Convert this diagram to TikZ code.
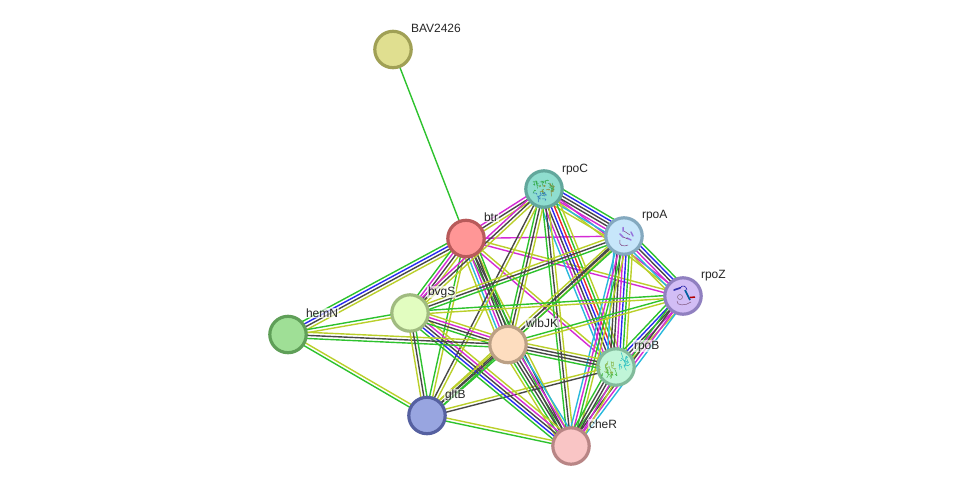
\documentclass[tikz,border=0pt]{standalone}
\usepackage{fontspec}
\setmainfont{Liberation Sans}
\usetikzlibrary{calc,backgrounds}
\definecolor{evgreen}{HTML}{2DC22D}
\definecolor{evred}{HTML}{F02A2A}
\definecolor{evblue}{HTML}{2A2AF0}
\definecolor{evcyan}{HTML}{28B8DC}
\definecolor{evmag}{HTML}{D42AD4}
\definecolor{evyel}{HTML}{BACF2A}
\definecolor{evblk}{HTML}{484848}
\definecolor{bavS}{HTML}{A0A055}\definecolor{bavF}{HTML}{E0DF90}
\definecolor{btrS}{HTML}{B85A5A}\definecolor{btrF}{HTML}{FF9696}
\definecolor{rpoCS}{HTML}{62A79C}\definecolor{rpoCF}{HTML}{8FDDCF}
\definecolor{rpoAS}{HTML}{84A9BF}\definecolor{rpoAF}{HTML}{C7E6FA}
\definecolor{rpoZS}{HTML}{9080C0}\definecolor{rpoZF}{HTML}{D2BDF5}
\definecolor{rpoBS}{HTML}{82BB9B}\definecolor{rpoBF}{HTML}{C0F5D8}
\definecolor{cheRS}{HTML}{B88585}\definecolor{cheRF}{HTML}{F9C5C5}
\definecolor{wlbS}{HTML}{BBA085}\definecolor{wlbF}{HTML}{FDDDBF}
\definecolor{bvgS}{HTML}{A0BB80}\definecolor{bvgF}{HTML}{E2FDC0}
\definecolor{hemS}{HTML}{5F9F58}\definecolor{hemF}{HTML}{9FDF96}
\definecolor{gltS}{HTML}{5560A0}\definecolor{gltF}{HTML}{98A5E0}
\tikzset{
  x=1pt,y=-1pt,
  protein/.style 2 args={circle,draw=#1,fill=#2,line width=3.2pt,minimum size=36.4pt,inner sep=0pt},
  tag/.style={font=\fontsize{12}{14}\selectfont,text=black!85,fill=white,fill opacity=.65,text opacity=1,inner sep=.8pt,anchor=base west},
  evline/.style={line width=1.4pt},
  glyph/.style={line width=.5pt,line cap=round}
}
% Parallel evidence strands between two proteins, spaced evenly about the centre line
\newcommand{\bundle}[3]{%
  \foreach \c [count=\k] in {#3} {\global\let\strandcount\k}%
  \foreach \c [count=\k] in {#3} {%
    \pgfmathsetmacro{\off}{(\k-(\strandcount+1)/2)*3.1}%
    \draw[evline,\c] ($(#1.center)!\off pt!90:(#2.center)$) -- ($(#2.center)!\off pt!-90:(#1.center)$);
  }%
}
% A cloud of short backbone strokes: centre x, centre y, half width, half height, colour, count
\newcommand{\strokes}[6]{%
  \foreach \n in {1,...,#6} {%
    \pgfmathsetmacro{\sx}{#1+#3*rand}%
    \pgfmathsetmacro{\sy}{#2+#4*rand}%
    \pgfmathsetmacro{\dx}{3*rand}%
    \pgfmathsetmacro{\dy}{3*rand}%
    \draw[glyph,#5] (\sx,\sy) .. controls (\sx+\dx,\sy-\dy) and (\sx-\dy,\sy+\dx) .. (\sx+\dx+\dy,\sy+\dy-\dx);
  }%
}
\begin{document}
\begin{tikzpicture}
\useasboundingbox (0,0) rectangle (975,491);
\pgfmathsetseed{4217}
% proteins
\node[protein={bavS}{bavF}] (bav) at (393,49.5) {};
\node[protein={btrS}{btrF}] (btr) at (466,238.5) {};
\node[protein={rpoCS}{rpoCF}] (rpoC) at (544,189) {};
\node[protein={rpoAS}{rpoAF}] (rpoA) at (624,236) {};
\node[protein={rpoZS}{rpoZF}] (rpoZ) at (683,296) {};
\node[protein={rpoBS}{rpoBF}] (rpoB) at (616,367) {};
\node[protein={cheRS}{cheRF}] (cheR) at (571,446) {};
\node[protein={wlbS}{wlbF}] (wlbJK) at (508,344.5) {};
\node[protein={bvgS}{bvgF}] (bvgS) at (410,313) {};
\node[protein={hemS}{hemF}] (hemN) at (288,334.5) {};
\node[protein={gltS}{gltF}] (gltB) at (427,415.5) {};
% interaction evidence
\begin{scope}[on background layer]
\bundle{bav}{btr}{evgreen}
\bundle{btr}{hemN}{evgreen,evblue,evblk,evyel}
\bundle{btr}{bvgS}{evgreen,evmag,evblk,evyel}
\bundle{btr}{rpoC}{evyel,evblk,evmag}
\bundle{btr}{rpoA}{evmag}
\bundle{btr}{rpoZ}{evmag,evyel}
\bundle{btr}{rpoB}{evmag,evyel}
\bundle{btr}{cheR}{evgreen,evblk,evyel}
\bundle{btr}{wlbJK}{evyel,evcyan,evmag,evblk,evblk,evgreen}
\bundle{btr}{gltB}{evgreen,evyel}
\bundle{rpoC}{rpoZ}{evyel,evmag}
\bundle{rpoC}{rpoA}{evyel,evcyan,evmag,evblk,evblk,evblue,evgreen}
\bundle{rpoC}{rpoB}{evcyan,evmag,evblk,evblue,evred,evgreen,evyel}
\bundle{rpoC}{cheR}{evgreen,evblk,evyel}
\bundle{rpoC}{wlbJK}{evgreen,evblk,evyel}
\bundle{rpoC}{bvgS}{evmag,evblk,evyel}
\bundle{rpoC}{gltB}{evblk,evyel}
\bundle{rpoA}{rpoZ}{evyel,evcyan,evmag,evblk,evblue,evgreen}
\bundle{rpoA}{rpoB}{evcyan,evblk,evblk,evmag,evblue,evgreen,evyel}
\bundle{rpoA}{cheR}{evcyan,evmag,evgreen,evyel}
\bundle{rpoA}{wlbJK}{evblk,evyel}
\bundle{rpoA}{bvgS}{evyel,evblk,evgreen}
\bundle{rpoA}{gltB}{evyel,evblk,evgreen}
\bundle{rpoZ}{rpoB}{evgreen,evblue,evblk,evmag,evyel}
\bundle{rpoZ}{cheR}{evgreen,evblk,evmag,evcyan}
\bundle{rpoZ}{wlbJK}{evgreen,evyel}
\bundle{rpoZ}{bvgS}{evgreen,evyel}
\bundle{rpoB}{wlbJK}{evyel,evblk,evblk,evgreen}
\bundle{rpoB}{cheR}{evgreen,evblk,evblk,evmag,evyel}
\bundle{rpoB}{gltB}{evyel,evblk}
\bundle{cheR}{wlbJK}{evcyan,evmag,evblk,evblk,evgreen,evyel}
\bundle{cheR}{bvgS}{evyel,evmag,evblk,evblue,evgreen}
\bundle{cheR}{gltB}{evyel,evgreen}
\bundle{wlbJK}{bvgS}{evyel,evmag,evblk,evgreen}
\bundle{wlbJK}{hemN}{evyel,evblk,evgreen}
\bundle{wlbJK}{gltB}{evyel,evblk,evgreen}
\bundle{bvgS}{hemN}{evgreen,evyel}
\bundle{bvgS}{gltB}{evyel,evblk,evgreen}
\bundle{hemN}{gltB}{evgreen,evyel}
\end{scope}
% structure sketches inside the four solved proteins
\strokes{543}{186}{10}{6}{green!45!gray!80!teal}{20}
\strokes{547}{188}{8}{5}{olive!60!gray}{10}
\strokes{541}{196}{5}{3.5}{teal!70!blue!80}{10}
\draw[line width=1.5pt,line cap=round,blue!50!violet!55!white]
  (623,227.5) -- (623,231) (631,232) -- (633,236) (620,234) -- (623,237) (627,238) -- (631,240);
\draw[glyph,violet!50!gray] (620,240) .. controls (618,246) and (624,247) .. (628,245) (623,237) -- (628,239) (624,231) -- (630,235);
\draw[line width=1.6pt,line cap=round,blue!60!black!80] (674,290) -- (680,288);
\draw[glyph,blue!60!black] (680,288) .. controls (683,284) and (686,286) .. (687,290);
\draw[line width=1.7pt,teal!75!blue] (685,290) -- (690,300);
\draw[line width=1.5pt,red!70!black] (690,297.5) -- (695,297);
\draw[glyph,gray!80!violet] (680,297) circle (2.5);
\draw[glyph,gray!70!violet] (677,301) .. controls (676,306) and (686,306) .. (691,302);
\strokes{607}{368}{8}{6}{olive!50!green!70}{14}
\strokes{624}{362}{5}{5}{teal!60!cyan!80}{12}
\strokes{610}{374}{8}{2}{green!45!gray}{8}
% labels
\node[tag] (lbav) at (410,32) {BAV2426};
\node[tag] (lbtr) at (483,221) {btr};
\node[tag] (lrpoC) at (561,172) {rpoC};
\node[tag] (lrpoA) at (641,218) {rpoA};
\node[tag] (lrpoZ) at (700,278) {rpoZ};
\node[tag] (lrpoB) at (633,349) {rpoB};
\node[tag] (lcheR) at (588,428) {cheR};
\node[tag] (lwlbJK) at (525,327) {wlbJK};
\node[tag] (lbvgS) at (427,295) {bvgS};
\node[tag] (lhemN) at (305,317) {hemN};
\node[tag] (lgltB) at (444,398) {gltB};
\end{tikzpicture}
\end{document}
